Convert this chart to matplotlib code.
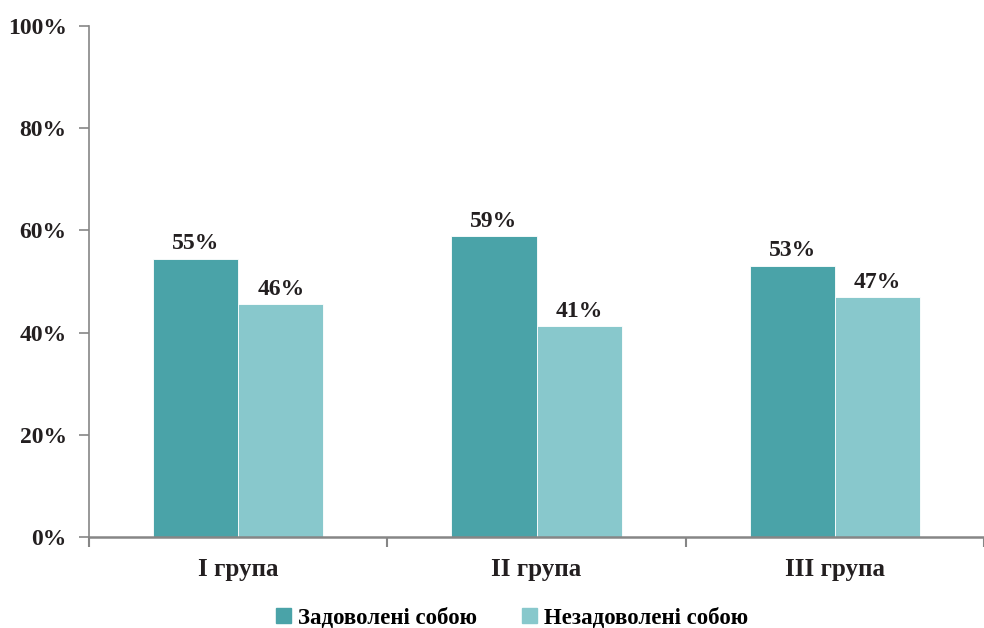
import numpy as np
import matplotlib.pyplot as plt
from matplotlib.patches import Patch

# дані діаграми
groups = ['I група', 'II група', 'III група']
satisfied = [54.5, 58.9, 53.1]
unsatisfied = [45.5, 41.2, 46.9]
satisfied_labels = ['55%', '59%', '53%']
unsatisfied_labels = ['46%', '41%', '47%']
series_names = ['Задоволені собою', 'Незадоволені собою']

dark = '#4aa3a8'
light = '#88c8cc'
text_c = '#231f20'
axis_c = '#868686'

plt.rcParams['font.family'] = ['Liberation Serif', 'DejaVu Serif']
plt.rcParams['font.weight'] = 'bold'

fig = plt.figure(figsize=(9.84, 6.28), dpi=100)
ax = fig.add_axes([89 / 984, 91 / 628, 1 - 89 / 984, 511 / 628])

x = np.arange(len(groups))
w = 0.286
b1 = ax.bar(x - w / 2, satisfied, w, color=dark, edgecolor='white', linewidth=0.6)
b2 = ax.bar(x + w / 2, unsatisfied, w, color=light, edgecolor='white', linewidth=0.6)

for bars, labels in ((b1, satisfied_labels), (b2, unsatisfied_labels)):
    for bar, lab in zip(bars, labels):
        ax.annotate(lab, (bar.get_x() + bar.get_width() / 2, bar.get_height()),
                    xytext=(0, 3), textcoords='offset points', ha='center', va='bottom',
                    fontsize=17, fontweight='bold', color=text_c)

ax.set_ylim(0, 100)
ax.set_xlim(-0.5, 2 + (984 - 842) / 301)
ax.set_yticks(np.arange(0, 101, 20))
ax.set_yticklabels([f'{v}%' for v in range(0, 101, 20)])

ax.set_xticks(x)
ax.set_xticklabels(groups)
ax.set_xticks([-0.5, 0.5, 1.5, 2.5], minor=True)
ax.tick_params(axis='x', which='major', length=0, pad=15, labelsize=18, labelcolor=text_c)
ax.tick_params(axis='x', which='minor', length=7, width=1.5, color=axis_c, direction='out')
ax.tick_params(axis='y', length=7, width=1.2, color=axis_c, pad=9, labelsize=17, labelcolor=text_c)
for lab in ax.get_xticklabels() + ax.get_yticklabels():
    lab.set_fontweight('bold')

for s in ('top', 'right'):
    ax.spines[s].set_visible(False)
ax.spines['left'].set_color(axis_c)
ax.spines['left'].set_linewidth(1.2)
ax.spines['bottom'].set_color(axis_c)
ax.spines['bottom'].set_linewidth(1.8)

handles = [Patch(color=dark), Patch(color=light)]
fig.legend(handles, series_names, loc='center', bbox_to_anchor=(512 / 984, 1 - 618 / 628),
           ncol=2, frameon=False, handlelength=0.65, handleheight=0.65,
           handletextpad=0.3, columnspacing=2.0, prop={'weight': 'bold', 'size': 16.5})

fig.savefig('out.png', dpi=100)
